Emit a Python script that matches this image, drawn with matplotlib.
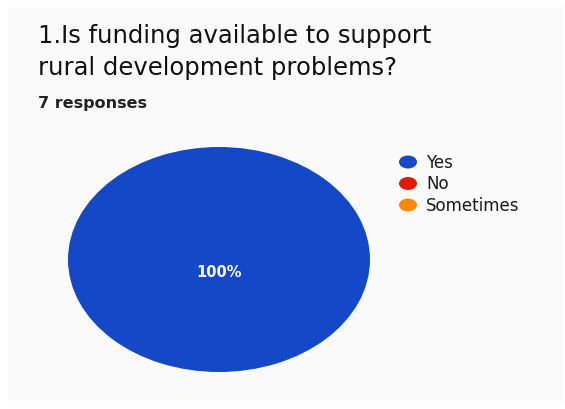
import matplotlib.pyplot as plt
from matplotlib.patches import Rectangle, Ellipse

plt.rcParams['font.family'] = ['DejaVu Sans']

labels = ["Yes", "No", "Sometimes"]
counts = [7, 0, 0]
colors = ["#1548c6", "#e01b00", "#ff8800"]

title_lines = ["1.Is funding available to support", "rural development problems?"]
subtitle = "7 responses"

fig = plt.figure(figsize=(5.65, 4.1), dpi=100)
fig.patch.set_facecolor("white")
fig.patches.append(Rectangle((8 / 565, 8 / 410), 555 / 565, 394 / 410,
                             transform=fig.transFigure, facecolor="#fafafa",
                             edgecolor="none", zorder=-5))

for i, line in enumerate(title_lines):
    fig.text(38 / 565, 1 - (43 + i * 32) / 410, line, fontsize=17.5,
             color="#111111", va="baseline")
fig.text(38 / 565, 1 - 108 / 410, subtitle, fontsize=11.5, color="#222222",
         fontweight="bold", va="baseline")

ax = fig.add_axes([68 / 565, 37 / 410, 302 / 565, 225 / 410])
wedges, _ = ax.pie([c for c in counts if c > 0],
                   colors=[col for c, col in zip(counts, colors) if c > 0],
                   startangle=90, counterclock=False)
ax.set_aspect("auto")
ax.set_xlim(-1, 1)
ax.set_ylim(-1, 1)
total = sum(counts)
ax.text(0, -0.11, f"{counts[0] / total:.0%}", color="white", fontsize=10.5,
        fontweight="bold", ha="center", va="center")

# legend
for i, (lab, col) in enumerate(zip(labels, colors)):
    y = 1 - (163 + i * 21.5) / 410
    fig.patches.append(Ellipse((408 / 565, y), 18 / 565, 13 / 410,
                               transform=fig.transFigure, facecolor=col,
                               edgecolor="none"))
    fig.text(426 / 565, y, lab, fontsize=12, color="#1a1a1a", va="center")

fig.savefig("out.png", dpi=100)
